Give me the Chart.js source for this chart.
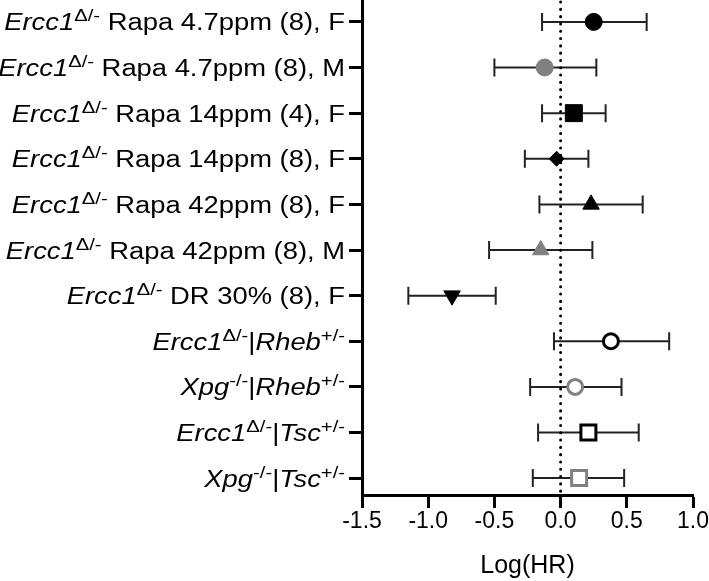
<!DOCTYPE html>
<html>
<head>
<meta charset="utf-8">
<script src="https://cdn.jsdelivr.net/npm/chart.js@4.4.0/dist/chart.umd.min.js"></script>
<style>
    html, body { margin: 0; padding: 0; background: #ffffff; }
    #wrap { width: 709px; height: 581px; }
</style>
</head>
<body>
<div id="wrap"><canvas id="forest-plot" width="709" height="581"></canvas></div>
<script>
// row labels, top to bottom (<i> = italic, <sup> = superscript)
const categories = [
    '<i>Ercc1</i><sup>Δ/-</sup> Rapa 4.7ppm (8), F',
    '<i>Ercc1</i><sup>Δ/-</sup> Rapa 4.7ppm (8), M',
    '<i>Ercc1</i><sup>Δ/-</sup> Rapa 14ppm (4), F',
    '<i>Ercc1</i><sup>Δ/-</sup> Rapa 14ppm (8), F',
    '<i>Ercc1</i><sup>Δ/-</sup> Rapa 42ppm (8), F',
    '<i>Ercc1</i><sup>Δ/-</sup> Rapa 42ppm (8), M',
    '<i>Ercc1</i><sup>Δ/-</sup> DR 30% (8), F',
    '<i>Ercc1</i><sup>Δ/-</sup>|<i>Rheb</i><sup>+/-</sup>',
    '<i>Xpg</i><sup>-/-</sup>|<i>Rheb</i><sup>+/-</sup>',
    '<i>Ercc1</i><sup>Δ/-</sup>|<i>Tsc</i><sup>+/-</sup>',
    '<i>Xpg</i><sup>-/-</sup>|<i>Tsc</i><sup>+/-</sup>'
];

const logHR  = [0.25, -0.12, 0.10, -0.03, 0.23, -0.15, -0.82, 0.38, 0.11, 0.21, 0.14];
const ciLow  = [-0.14, -0.50, -0.14, -0.27, -0.16, -0.54, -1.15, -0.05, -0.23, -0.17, -0.21];
const ciHigh = [0.65, 0.27, 0.34, 0.21, 0.62, 0.24, -0.49, 0.82, 0.46, 0.59, 0.48];

const xTicks = [-1.5, -1.0, -0.5, 0.0, 0.5, 1.0];

const FONT = '"Liberation Sans", Arial, Helvetica, sans-serif';
const BLACK = '#000000';
const GREY = '#808080';

// marker look for each row
const markers = [
    { style: 'circle',   r: 8.5,  rot: 0,   fill: BLACK,     edge: BLACK, bw: 1 },
    { style: 'circle',   r: 8.5,  rot: 0,   fill: GREY,      edge: GREY,  bw: 1 },
    { style: 'rect',     r: 12,   rot: 0,   fill: BLACK,     edge: BLACK, bw: 1 },
    { style: 'rectRot',  r: 7.5,  rot: 0,   fill: BLACK,     edge: BLACK, bw: 1 },
    { style: 'triangle', r: 9.5,  rot: 0,   fill: BLACK,     edge: BLACK, bw: 1 },
    { style: 'triangle', r: 9.5,  rot: 0,   fill: GREY,      edge: GREY,  bw: 1 },
    { style: 'triangle', r: 9.5,  rot: 180, fill: BLACK,     edge: BLACK, bw: 1 },
    { style: 'circle',   r: 7.5,  rot: 0,   fill: '#ffffff', edge: BLACK, bw: 3 },
    { style: 'circle',   r: 7.5,  rot: 0,   fill: '#ffffff', edge: GREY,  bw: 3 },
    { style: 'rect',     r: 10.6, rot: 0,   fill: '#ffffff', edge: BLACK, bw: 3 },
    { style: 'rect',     r: 10.6, rot: 0,   fill: '#ffffff', edge: GREY,  bw: 3 }
];

function parseLabel(str) {
    const parts = [];
    const re = /<(i|sup)>(.*?)<\/\1>|([^<]+)/g;
    let m;
    while ((m = re.exec(str))) {
        if (m[3]) parts.push({ text: m[3], kind: 'n' });
        else parts.push({ text: m[2], kind: m[1] });
    }
    return parts;
}

const LABEL_SIZE = 23;
const SUP_SIZE = 17;
const STRETCH = 1.19;   // reference text is wider than Arial

function segFont(kind) {
    if (kind === 'i') return 'italic ' + LABEL_SIZE + 'px ' + FONT;
    if (kind === 'sup') return SUP_SIZE + 'px ' + FONT;
    return LABEL_SIZE + 'px ' + FONT;
}

// confidence intervals + dotted zero line, under the markers
const intervalPlugin = {
    id: 'intervals',
    beforeDatasetsDraw(chart) {
        const { ctx, chartArea, scales: { x, y } } = chart;
        ctx.save();

        ctx.strokeStyle = '#222222';
        ctx.lineWidth = 2;
        ctx.setLineDash([]);
        categories.forEach((_, i) => {
            const py = y.getPixelForValue(i + 1);
            const x1 = x.getPixelForValue(ciLow[i]);
            const x2 = x.getPixelForValue(ciHigh[i]);
            ctx.beginPath();
            ctx.moveTo(x1, py);
            ctx.lineTo(x2, py);
            ctx.moveTo(x1, py - 9);
            ctx.lineTo(x1, py + 9);
            ctx.moveTo(x2, py - 9);
            ctx.lineTo(x2, py + 9);
            ctx.stroke();
        });

        const x0 = x.getPixelForValue(0);
        ctx.strokeStyle = BLACK;
        ctx.lineWidth = 3;
        ctx.lineCap = 'round';
        ctx.setLineDash([0.1, 7.2]);
        ctx.beginPath();
        ctx.moveTo(x0, chartArea.top + 2);
        ctx.lineTo(x0, chartArea.bottom);
        ctx.stroke();
        ctx.restore();
    }
};

// y labels with italic / superscript parts
const labelPlugin = {
    id: 'richLabels',
    afterDraw(chart) {
        const { ctx, chartArea, scales: { y } } = chart;
        const right = chartArea.left - 13 - 4;
        ctx.save();
        ctx.fillStyle = BLACK;
        ctx.textBaseline = 'alphabetic';
        ctx.textAlign = 'left';
        categories.forEach((label, i) => {
            const parts = parseLabel(label);
            let total = 0;
            parts.forEach(p => {
                ctx.font = segFont(p.kind);
                p.w = ctx.measureText(p.text).width;
                total += p.w;
            });
            const py = y.getPixelForValue(i + 1);
            ctx.save();
            ctx.translate(right - total * STRETCH, py + 8.5);
            ctx.scale(STRETCH, 1);
            let cx = 0;
            parts.forEach(p => {
                ctx.font = segFont(p.kind);
                ctx.fillText(p.text, cx, p.kind === 'sup' ? -9 : 0);
                cx += p.w;
            });
            ctx.restore();
        });
        ctx.restore();
    }
};

const ctx = document.getElementById('forest-plot').getContext('2d');
new Chart(ctx, {
    type: 'scatter',
    data: {
        datasets: [{
            label: 'Log(HR)',
            data: logHR.map((v, i) => ({ x: v, y: i + 1 })),
            pointStyle: markers.map(m => m.style),
            pointRadius: markers.map(m => m.r),
            pointRotation: markers.map(m => m.rot),
            pointBackgroundColor: markers.map(m => m.fill),
            pointBorderColor: markers.map(m => m.edge),
            pointBorderWidth: markers.map(m => m.bw),
            showLine: false
        }]
    },
    options: {
        responsive: false,
        animation: false,
        devicePixelRatio: 1,
        events: [],
        layout: { autoPadding: false, padding: { top: 0, right: 16, bottom: 0, left: 0 } },
        plugins: {
            legend: { display: false },
            tooltip: { enabled: false }
        },
        scales: {
            x: {
                type: 'linear',
                position: 'bottom',
                min: -1.5,
                max: 1.0,
                afterBuildTicks: s => { s.ticks = xTicks.map(v => ({ value: v })); },
                afterFit: s => { s.height = 86; },
                ticks: {
                    callback: v => v.toFixed(1),
                    color: BLACK,
                    font: { family: FONT, size: 23 },
                    padding: 0,
                    maxRotation: 0,
                    autoSkip: false
                },
                grid: {
                    drawOnChartArea: false,
                    drawTicks: true,
                    tickLength: 13,
                    tickWidth: 3,
                    tickColor: BLACK
                },
                border: { display: true, width: 3, color: BLACK },
                title: {
                    display: true,
                    text: 'Log(HR)',
                    color: BLACK,
                    font: { family: FONT, size: 25 },
                    padding: { top: 0, bottom: 0 }
                }
            },
            y: {
                type: 'linear',
                reverse: true,
                min: 0.52,
                max: 11.37,
                afterBuildTicks: s => { s.ticks = categories.map((_, i) => ({ value: i + 1 })); },
                afterFit: s => { s.width = 362; },
                ticks: { display: false },
                grid: {
                    drawOnChartArea: false,
                    drawTicks: true,
                    tickLength: 13,
                    tickWidth: 3,
                    tickColor: BLACK
                },
                border: { display: true, width: 3, color: BLACK }
            }
        }
    },
    plugins: [intervalPlugin, labelPlugin]
});
</script>
</body>
</html>
